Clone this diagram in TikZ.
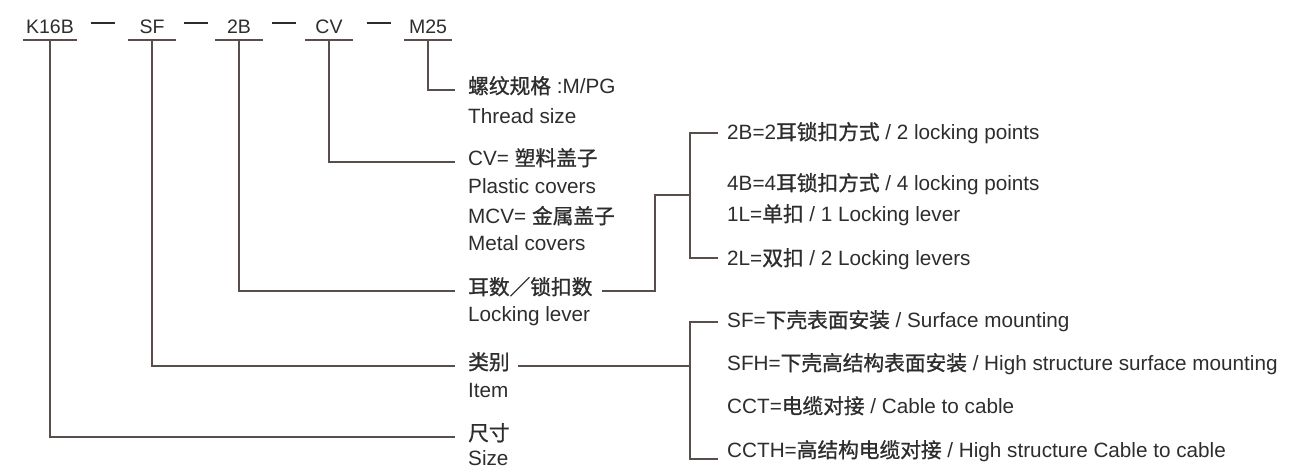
\documentclass[tikz,border=0pt]{standalone}
\usepackage{fontspec}
\setmainfont{Liberation Sans}
\newfontfamily\cjk{Noto Sans CJK SC}[FakeBold=1]
\usetikzlibrary{calc}
\definecolor{inkgrey}{RGB}{45,45,45}
\definecolor{leadbrown}{RGB}{88,78,76}

\begin{document}
\begin{tikzpicture}[x=1pt, y=-1pt,
  code/.style={font=\fontsize{19.5}{22}\selectfont, text=inkgrey, inner xsep=3pt, inner ysep=0pt, minimum width=47pt, anchor=base},
  lbl/.style={font=\fontsize{20.7}{24}\selectfont, text=inkgrey, inner sep=0pt, text height=0.72em, text depth=0pt, anchor=west},
  lead/.style={draw=leadbrown, line width=1.5pt},
  sep/.style={draw=inkgrey, line width=1.3pt}]
  \useasboundingbox (0,0) rectangle (1305,472);

  % order code along the top
  \foreach \n/\x/\t in {k16b/50/K16B, sf/152/SF, lk/239/2B, cv/329/CV, m25/428/M25} {
    \node[code] (\n) at (\x,33) {\t};
    \draw[lead] ([yshift=-7pt]\n.base west) -- ([yshift=-7pt]\n.base east);
  }
  \foreach \a/\b in {k16b/sf, sf/lk, lk/cv, cv/m25}
    \draw[sep] ($(\a.base east)!.5!(\b.base west)+(-12,-10)$) -- ++(24,0);

  % meaning of each field
  \node[lbl] (thread)   at (468,90)  {{\cjk 螺纹规格} :M/PG};
  \node[lbl] (threaden) at (468,120) {Thread size};
  \node[lbl] (cvl)      at (468,162) {CV= {\cjk 塑料盖子}};
  \node[lbl] (cven)     at (468,190) {Plastic covers};
  \node[lbl] (mcv)      at (468,220) {MCV= {\cjk 金属盖子}};
  \node[lbl] (mcven)    at (468,247) {Metal covers};
  \node[lbl] (ear)      at (468,291) {{\cjk 耳数／锁扣数}};
  \node[lbl] (earen)    at (468,318) {Locking lever};
  \node[lbl] (item)     at (468,366) {{\cjk 类别}};
  \node[lbl] (itemen)   at (468,394) {Item};
  \node[lbl] (size)     at (468,437) {{\cjk 尺寸}};
  \node[lbl] (sizeen)   at (468,462) {Size};

  \draw[lead] ([yshift=-7pt]m25.base)  |- ([xshift=-13pt]thread.west);
  \draw[lead] ([yshift=-7pt]cv.base)   |- ([xshift=-13pt]cvl.west);
  \draw[lead] ([yshift=-7pt]lk.base)   |- ([xshift=-13pt]ear.west);
  \draw[lead] ([yshift=-7pt]sf.base)   |- ([xshift=-13pt]item.west);
  \draw[lead] ([yshift=-7pt]k16b.base) |- ([xshift=-13pt]size.west);

  % locking options
  \node[lbl] (b2) at (727,136) {2B=2{\cjk 耳锁扣方式} / 2 locking points};
  \node[lbl] (b4) at (727,187) {4B=4{\cjk 耳锁扣方式} / 4 locking points};
  \node[lbl] (l1) at (727,218) {1L={\cjk 单扣} / 1 Locking lever};
  \node[lbl] (l2) at (727,262) {2L={\cjk 双扣} / 2 Locking levers};
  \coordinate (lockjog) at (655,195);
  \coordinate (lockhub) at (690,195);
  \draw[lead] ([xshift=9pt]ear.east) -| (lockjog) -- (lockhub);
  \draw[lead] ([xshift=-9pt,yshift=3pt]b2.west) -| (lockhub) |- ([xshift=-9pt,yshift=4pt]l2.west);

  % item options
  \node[lbl] (sfrow)   at (727,324) {SF={\cjk 下壳表面安装} / Surface mounting};
  \node[lbl] (sfhrow)  at (727,367) {SFH={\cjk 下壳高结构表面安装} / High structure surface mounting};
  \node[lbl] (cctrow)  at (727,410) {CCT={\cjk 电缆对接} / Cable to cable};
  \node[lbl] (ccthrow) at (727,454) {CCTH={\cjk 高结构电缆对接} / High structure Cable to cable};
  \coordinate (typehub) at (690,366);
  \draw[lead] ([xshift=8pt]item.east) -- (typehub);
  \draw[lead] ([xshift=-9pt,yshift=2pt]sfrow.west) -| (typehub) |- ([xshift=-9pt,yshift=-5pt]ccthrow.west);
\end{tikzpicture}
\end{document}
